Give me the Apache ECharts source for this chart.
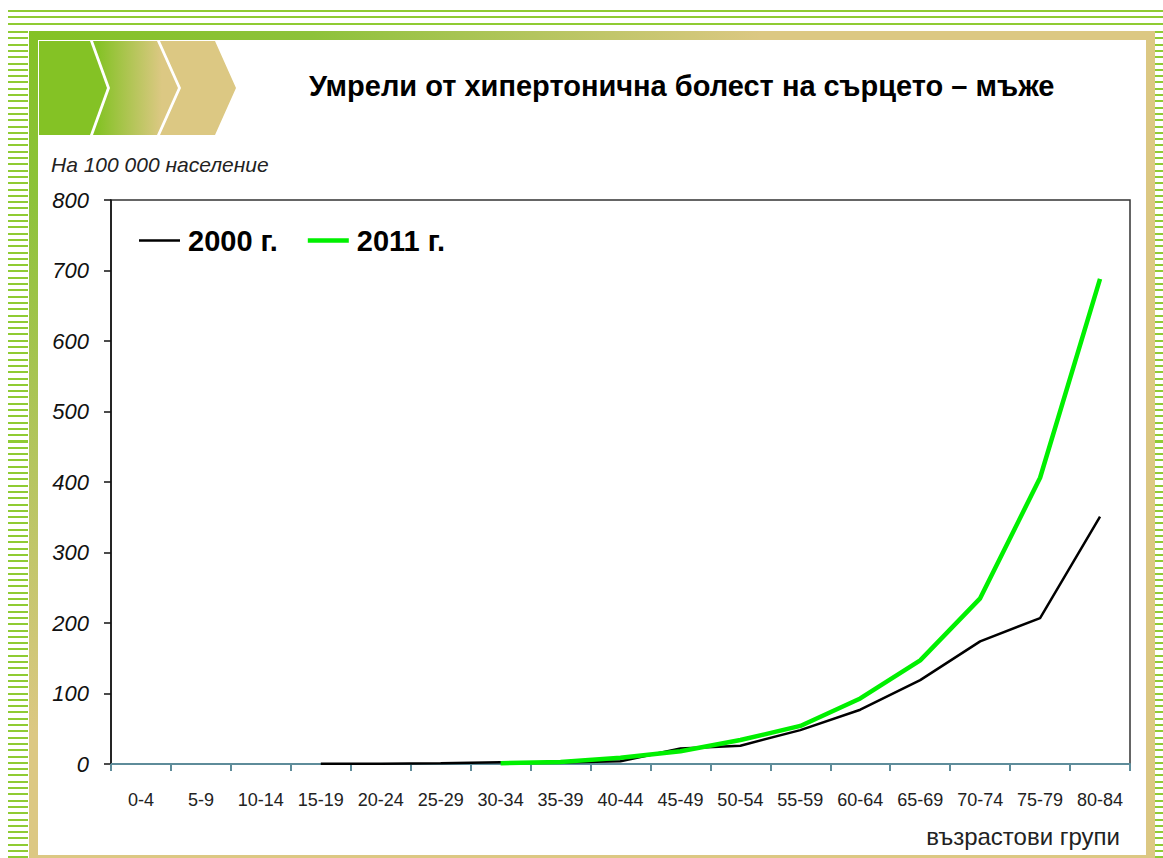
<!DOCTYPE html>
<html>
<head>
<meta charset="utf-8">
<script src="https://cdn.jsdelivr.net/npm/echarts@6/dist/echarts.min.js"></script>
<style>
  html, body { margin: 0; padding: 0; background: #fff; }
  .page { position: relative; width: 1163px; height: 858px; overflow: hidden; background: #fff; }
  .stripes-top {
    position: absolute; left: 8px; top: 10px; width: 1155px; height: 17px;
    background: repeating-linear-gradient(to bottom, #8fcb33 0 2px, transparent 2px 6.5px);
  }
  .stripes-left, .stripes-right {
    position: absolute; top: 31px; height: 827px;
    background: repeating-linear-gradient(to bottom, #8fcb33 0 2px, transparent 2px 6.3px);
  }
  .stripes-left { left: 8px; width: 20px; }
  .stripes-right { left: 1155px; width: 8px; }
  .bar-top {
    position: absolute; left: 29px; top: 31px; width: 1126px; height: 9px;
    background: linear-gradient(to right, #84c225 0%, #8dc23a 25%, #dcc883 65%, #dcc883 100%);
  }
  .bar-left {
    position: absolute; left: 29px; top: 31px; width: 9px; height: 827px;
    background: linear-gradient(to bottom, #84c225 0%, #8dc23a 20%, #dcc883 85%, #dcc883 100%);
  }
  .bar-right { position: absolute; left: 1146px; top: 31px; width: 9px; height: 827px; background: #dcc883; }
  .bar-bottom { position: absolute; left: 29px; top: 855px; width: 1126px; height: 3px; background: #dcc883; }
  .chev { position: absolute; top: 41px; height: 94px; }
  .chev1 { left: 39px; width: 69px; background: #84c225;
    clip-path: polygon(0 0, 51px 0, 68px 47px, 51px 94px, 0 94px); }
  .chev2 { left: 93px; width: 86px; background: linear-gradient(to right, #84c225 5%, #dcc883 80%);
    clip-path: polygon(0 0, 64px 0, 85px 47px, 64px 94px, 0 94px, 17px 47px); }
  .chev3 { left: 160px; width: 77px; background: #dcc883;
    clip-path: polygon(0 0, 55px 0, 76px 47px, 55px 94px, 0 94px, 21px 47px); }
  #chart { position: absolute; left: 0; top: 0; width: 1163px; height: 858px; }
</style>
</head>
<body>
<div class="page">
  <div class="stripes-top"></div>
  <div class="stripes-left"></div>
  <div class="stripes-right"></div>
  <div class="bar-top"></div>
  <div class="bar-left"></div>
  <div class="bar-right"></div>
  <div class="bar-bottom"></div>
  <div class="chev chev1"></div>
  <div class="chev chev2"></div>
  <div class="chev chev3"></div>
  <div id="chart"></div>
</div>
<script>
// възрастови групи
var ageGroups = ['0-4', '5-9', '10-14', '15-19', '20-24', '25-29', '30-34', '35-39', '40-44',
  '45-49', '50-54', '55-59', '60-64', '65-69', '70-74', '75-79', '80-84']
// на 100 000 население
var deaths2000 = [null, null, null, 0.5, 0.5, 1, 2.5, 2, 4, 22, 26, 48, 77, 119, 174, 207, 351]
var deaths2011 = [null, null, null, null, null, null, 1, 3, 9, 18, 34, 54, 93, 147, 235, 406, 688]
var yTicks = [0, 100, 200, 300, 400, 500, 600, 700, 800]

var font = '"Liberation Sans", Arial, sans-serif'

var chart = echarts.init(document.getElementById('chart'), null, { renderer: 'svg' })

var options = {
  animation: false,
  backgroundColor: 'transparent',
  title: [
    {
      text: 'Умрели от хипертонична болест на сърцето – мъже',
      left: 309,
      top: 71,
      padding: 0,
      textStyle: { fontFamily: font, fontSize: 29, fontWeight: 'bold', color: '#000' }
    },
    {
      text: 'На 100 000 население',
      left: 51,
      top: 154,
      padding: 0,
      textStyle: { fontFamily: font, fontSize: 21, fontStyle: 'italic', fontWeight: 'normal', color: '#222' }
    },
    {
      text: 'възрастови групи',
      right: 43,
      top: 824,
      padding: 0,
      textStyle: { fontFamily: font, fontSize: 24, fontWeight: 'normal', color: '#222' }
    }
  ],
  legend: {
    left: 139,
    top: 226,
    padding: 0,
    itemWidth: 41,
    itemHeight: 14,
    itemGap: 30,
    textStyle: { fontFamily: font, fontSize: 29, fontWeight: 'bold', color: '#000', padding: [0, 0, 0, 3] },
    data: [
      { name: '2000 г.', icon: 'path://M0 0H41V2.5H0Z' },
      { name: '2011 г.', icon: 'path://M0 0H41V4.5H0Z' }
    ]
  },
  grid: {
    left: 111,
    right: 33,
    top: 200,
    bottom: 94,
    show: true,
    borderColor: '#333',
    borderWidth: 1.5
  },
  xAxis: {
    type: 'category',
    data: ageGroups,
    boundaryGap: true,
    axisLine: { show: true, lineStyle: { color: '#5e8c9a', width: 2 } },
    axisTick: { show: true, length: 7, lineStyle: { color: '#5e8c9a', width: 2 } },
    axisLabel: { fontFamily: font, fontSize: 18, color: '#222', margin: 27, interval: 0 }
  },
  yAxis: {
    type: 'value',
    min: yTicks[0],
    max: yTicks[yTicks.length - 1],
    interval: 100,
    splitLine: { show: false },
    axisLine: { show: true, lineStyle: { color: '#111', width: 1.5 } },
    axisTick: { show: true, length: 7, lineStyle: { color: '#111', width: 1.5 } },
    axisLabel: { fontFamily: font, fontSize: 22, fontStyle: 'italic', color: '#111', margin: 22 }
  },
  series: [
    {
      name: '2000 г.',
      type: 'line',
      data: deaths2000,
      symbol: 'none',
      smooth: false,
      itemStyle: { color: '#000' },
      lineStyle: { color: '#000', width: 2.5 }
    },
    {
      name: '2011 г.',
      type: 'line',
      data: deaths2011,
      symbol: 'none',
      smooth: false,
      itemStyle: { color: '#00f000' },
      lineStyle: { color: '#00f000', width: 4.5 }
    }
  ]
}

chart.setOption(options, true)
</script>
</body>
</html>
